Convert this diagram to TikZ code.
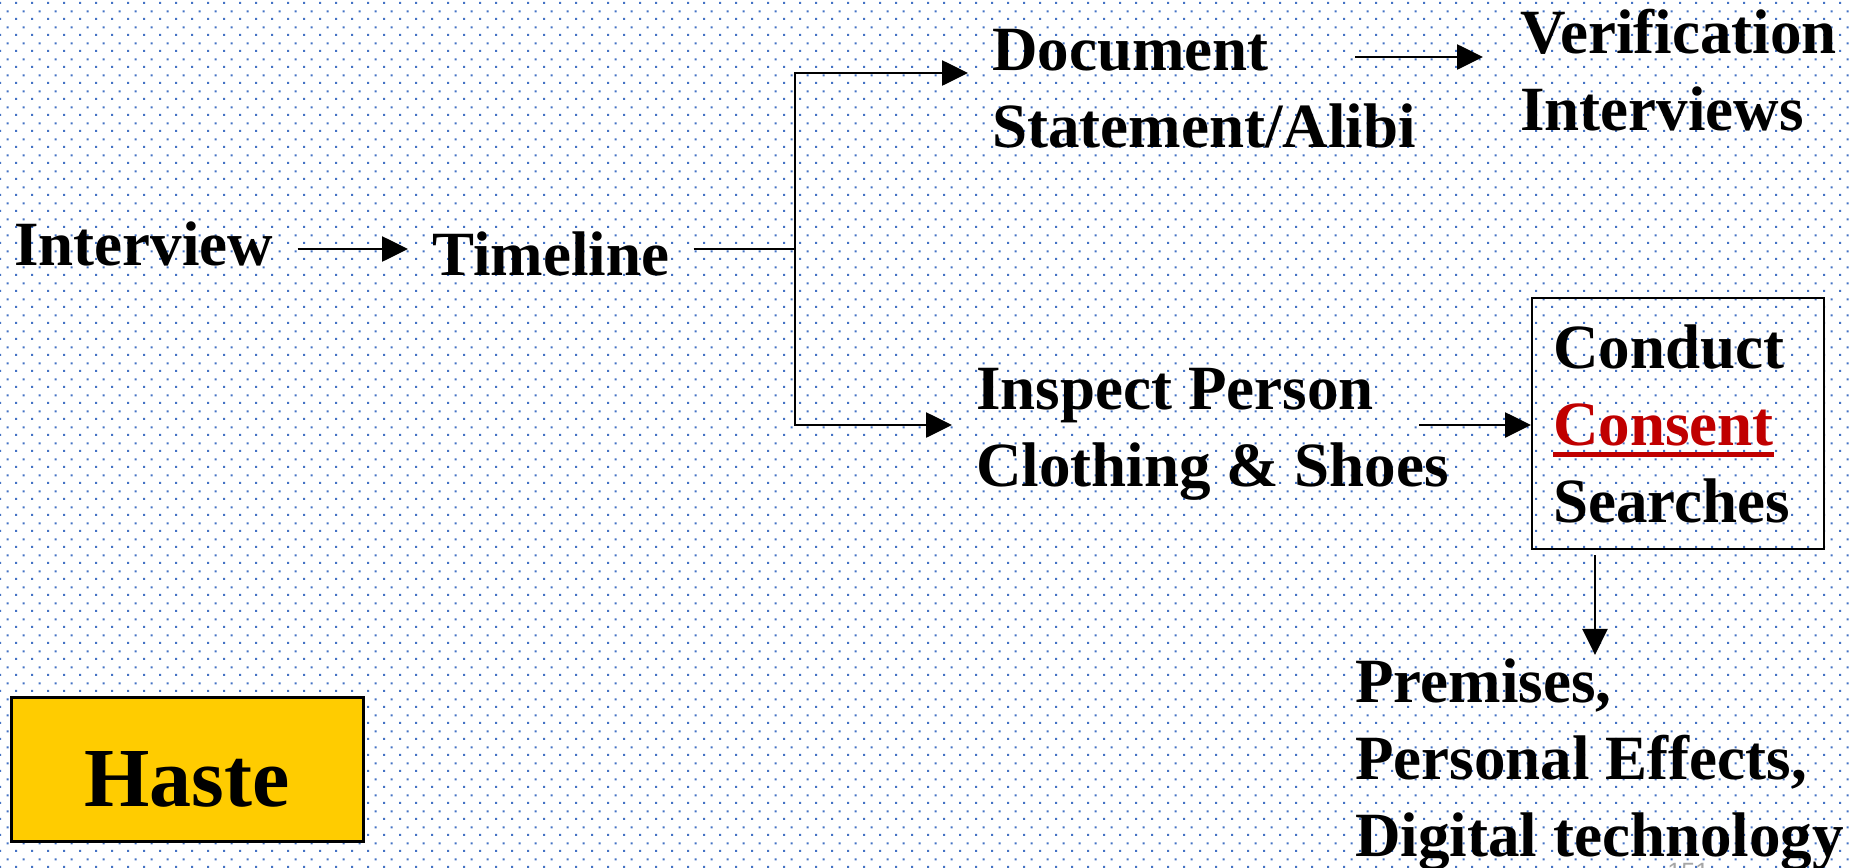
\documentclass[tikz,border=0pt]{standalone}
\usepackage{fontspec}
\setmainfont{Liberation Serif}
\newfontfamily\numfont{Liberation Sans}
\usetikzlibrary{arrows.meta,patterns}

\definecolor{dotblue}{RGB}{68,114,196}
\definecolor{hasteyellow}{RGB}{255,204,0}
\definecolor{consentred}{RGB}{192,0,0}

% staggered dot grid used as the slide background
\pgfdeclarepatternformonly{gridDots}{\pgfpointorigin}{\pgfpoint{8pt}{8pt}}{\pgfpoint{8pt}{8pt}}{%
  \pgfpathrectangle{\pgfpoint{0pt}{0pt}}{\pgfpoint{1.15pt}{1.15pt}}%
  \pgfpathrectangle{\pgfpoint{4pt}{4pt}}{\pgfpoint{1.15pt}{1.15pt}}%
  \pgfusepath{fill}}

% word with a heavy underline
\newcommand\redunder[1]{\leavevmode\setbox0\hbox{#1}\rlap{\rule[-6pt]{\wd0}{2.5pt}}\box0}

\begin{document}
\begin{tikzpicture}[x=0.5pt,y=-0.5pt,
  lbl/.style={inner xsep=12pt,inner ysep=0pt,anchor=base west,align=left,
    font=\fontsize{31.5}{38.5}\selectfont\bfseries},
  link/.style={line width=1.35pt},
  arr/.style={link,-{Triangle[length=13pt,width=12.5pt]}}]

\useasboundingbox (0,0) rectangle (1854,868);
\fill[white] (0,0) rectangle (1854,868);
\fill[pattern=gridDots,pattern color=dotblue] (0,0) rectangle (1854,868);

% text nodes (multi-line nodes are placed by the baseline of their last line)
\node[lbl] (interview) at (-10,265) {Interview};
\node[lbl] (timeline)  at (408,275) {Timeline};
\node[lbl] (document)  at (968,147) {Document\\Statement/Alibi};
\node[lbl] (verify)    at (1496,130) {Verification\\Interviews};
\node[lbl] (inspect)   at (952,486) {Inspect Person\\Clothing \& Shoes};
\node[draw,line width=1.1pt,anchor=north west,minimum width=146pt,minimum height=125.5pt,
      inner xsep=10.5pt,inner ysep=0pt,text width=125pt,align=left,
      font=\fontsize{31.5}{38.5}\selectfont\bfseries] (searchbox) at (1531,297)
      {Conduct\\\textcolor{consentred}{\redunder{Consent}}\\Searches};
\node[lbl] (premises)  at (1331,856) {Premises,\\Personal Effects,\\Digital technology};

\node[draw,line width=1.5pt,fill=hasteyellow,minimum width=176pt,minimum height=72pt,
      inner sep=0pt,text height=37pt,text depth=0pt,
      font=\fontsize{42}{50}\selectfont\bfseries] (haste) at (187,769) {Haste};

\node[anchor=base west,inner sep=0pt,text=black!35,font=\numfont\fontsize{12.5}{15}\selectfont]
      (pagenum) at (1667,880) {151};

% connector routing points
\coordinate (mainrow) at (0,249);
\coordinate (split)   at (795,249);
\coordinate (upper)   at (795,73);
\coordinate (lower)   at (795,425);
\coordinate (docout)  at (1355,57);
\coordinate (inspout) at (1419,425);
\coordinate (downx)   at (1595,0);

% connectors
\draw[arr] (interview.east |- mainrow) -- (timeline.west |- mainrow);
\draw[link] (timeline.east |- split) -- (split);
\draw[arr] (split) |- (document.west |- upper);
\draw[arr] (split) |- (inspect.west |- lower);
\draw[arr,shorten >=6.5pt] (docout) -- (verify.west |- docout);
\draw[arr] (inspout) -- (searchbox.west |- inspout);
\draw[arr,shorten <=2.5pt,shorten >=1.5pt] (searchbox.south -| downx) -- (premises.north -| downx);
\end{tikzpicture}
\end{document}
